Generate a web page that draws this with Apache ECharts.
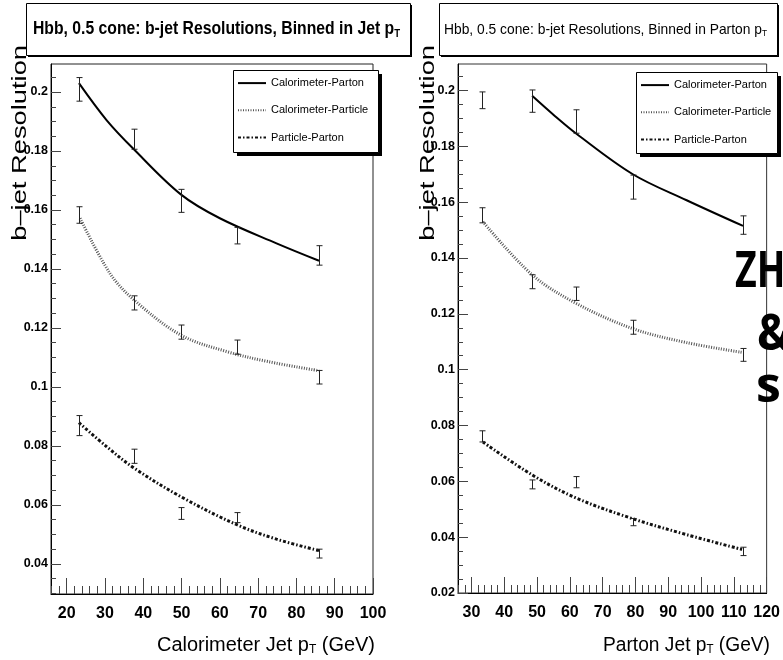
<!DOCTYPE html>
<html>
<head>
<meta charset="utf-8">
<script src="https://cdn.jsdelivr.net/npm/echarts@6.0.0/dist/echarts.min.js"></script>
<style>
  html, body { margin: 0; padding: 0; background: #fff; }
  #main { width: 783px; height: 660px; }
</style>
</head>
<body>
<div id="main"></div>
<script>
const SANS = "'Liberation Sans', Arial, sans-serif";

// ---- left panel: binned in calorimeter jet pT ----
const ptL = [23.2, 37.6, 49.8, 64.6, 85.9];
const calParL = [0.2009, 0.1840, 0.1631, 0.1513, 0.1446];
const calParErrL = [0.0040, 0.0034, 0.0039, 0.0028, 0.0033];
const calPcL = [0.1583, 0.1285, 0.1186, 0.1135, 0.1033];
const calPcErrL = [0.0028, 0.0024, 0.0024, 0.0024, 0.0023];
const pcParL = [0.0869, 0.0765, 0.0571, 0.0557, 0.0435];
const pcParErrL = [0.0034, 0.0024, 0.0020, 0.0017, 0.0015];
// fitted curves
const fitCalParL = [[23.2, 0.2030], [30.4, 0.1905], [37.6, 0.1805], [49.8, 0.1653], [60, 0.1572], [74.8, 0.1487], [85.9, 0.1428]];
const fitCalPcL = [[23.5, 0.1572], [31.3, 0.1385], [37.6, 0.1295], [49.8, 0.1176], [61.8, 0.1120], [72.6, 0.1086], [85.9, 0.1055]];
const fitPcParL = [[23.2, 0.0879], [30.4, 0.0798], [37.6, 0.0725], [49.8, 0.0628], [64.6, 0.0532], [74.8, 0.0484], [85.9, 0.0445]];

// ---- right panel: binned in parton pT ----
const ptR = [33.2, 48.5, 62.0, 79.2, 112.8];
const calParR = [0.1965, 0.1962, 0.1889, 0.1654, 0.1518];
const calParErrR = [0.0030, 0.0040, 0.0042, 0.0043, 0.0033];
const calPcR = [0.1553, 0.1315, 0.1272, 0.1152, 0.1053];
const calPcErrR = [0.0027, 0.0025, 0.0024, 0.0025, 0.0023];
const pcParR = [0.0761, 0.0589, 0.0597, 0.0454, 0.0349];
const pcParErrR = [0.0020, 0.0016, 0.0020, 0.0013, 0.0015];
const fitCalParR = [[48.5, 0.1981], [55.5, 0.1908], [62.0, 0.1845], [79.2, 0.1700], [95.6, 0.1607], [112.8, 0.1515]];
const fitCalPcR = [[33.5, 0.1530], [48.5, 0.1340], [62.0, 0.1237], [79.2, 0.1147], [95.6, 0.1097], [112.5, 0.1062]];
const fitPcParR = [[33.5, 0.0741], [48.5, 0.0623], [62.0, 0.0540], [79.2, 0.0466], [95.6, 0.0409], [112.5, 0.0356]];

// tick labels
const xTicksL = [20, 30, 40, 50, 60, 70, 80, 90, 100];
const yTicksL = [0.04, 0.06, 0.08, 0.1, 0.12, 0.14, 0.16, 0.18, 0.2];
const xTicksR = [30, 40, 50, 60, 70, 80, 90, 100, 110, 120];
const yTicksR = [0.02, 0.04, 0.06, 0.08, 0.1, 0.12, 0.14, 0.16, 0.18, 0.2];

const names = ['Calorimeter-Parton', 'Calorimeter-Particle', 'Particle-Parton'];
const lineStyles = [
  { color: '#000', width: 2, type: 'solid' },
  { color: '#555', width: 3, type: [1, 1.5] },
  { color: '#111', width: 3, type: [3, 2, 1.5, 2] }
];

// used to squeeze text into the narrow look of the original
const measureCtx = document.createElement('canvas').getContext('2d');
function textWidth(str, size, weight) {
  measureCtx.font = weight + ' ' + size + 'px ' + SANS;
  return measureCtx.measureText(str).width;
}

function minorTicks(lo, hi, step) {
  const out = [];
  for (let k = Math.ceil(lo / step - 1e-9); k * step <= hi + 1e-9; k++) {
    out.push(+(k * step).toFixed(4));
  }
  return out;
}

function xAxes(grid, min, max, ticks) {
  return [{
    type: 'value', gridIndex: grid, min: min, max: max, position: 'bottom',
    axisLine: { show: true, onZero: false, lineStyle: { color: '#000', width: 1 } },
    axisTick: { show: true, inside: true, length: 16, customValues: ticks, lineStyle: { color: '#444' } },
    axisLabel: { customValues: ticks, margin: 12, color: '#000', fontFamily: SANS, fontWeight: 'bold', fontSize: 16 },
    splitLine: { show: false }
  }, {
    type: 'value', gridIndex: grid, min: min, max: max, position: 'bottom',
    axisLine: { show: false }, axisLabel: { show: false }, splitLine: { show: false },
    axisTick: { show: true, inside: true, length: 8, customValues: minorTicks(min, max, 2), lineStyle: { color: '#444' } }
  }];
}

function yAxes(grid, min, max, ticks) {
  return [{
    type: 'value', gridIndex: grid, min: min, max: max, position: 'left',
    axisLine: { show: true, onZero: false, lineStyle: { color: '#000', width: 1 } },
    axisTick: { show: true, inside: true, length: 10, customValues: ticks, lineStyle: { color: '#444' } },
    axisLabel: { customValues: ticks, margin: 3, color: '#000', fontFamily: SANS, fontWeight: 'bold', fontSize: 12.5 },
    splitLine: { show: false }
  }, {
    type: 'value', gridIndex: grid, min: min, max: max, position: 'left',
    axisLine: { show: false }, axisLabel: { show: false }, splitLine: { show: false },
    axisTick: { show: true, inside: true, length: 5, customValues: minorTicks(min, max, 0.005), lineStyle: { color: '#444' } }
  }];
}

function errRender(params, api) {
  const x = api.value(0), y = api.value(1), e = api.value(2);
  const top = api.coord([x, y + e]), bot = api.coord([x, y - e]);
  const cx = Math.round(top[0]) + 0.5;
  const st = { stroke: '#222', lineWidth: 1 };
  return {
    type: 'group', children: [
      { type: 'line', shape: { x1: cx, y1: top[1], x2: cx, y2: bot[1] }, style: st },
      { type: 'line', shape: { x1: cx - 3, y1: top[1], x2: cx + 3, y2: top[1] }, style: st },
      { type: 'line', shape: { x1: cx - 3, y1: bot[1], x2: cx + 3, y2: bot[1] }, style: st }
    ]
  };
}

function zip(xs, ys, es) {
  return xs.map(function (x, i) { return [x, ys[i], es[i]]; });
}

function panelSeries(axisIdx, fits, pts) {
  const out = [];
  fits.forEach(function (f, i) {
    out.push({
      type: 'line', name: names[i], xAxisIndex: axisIdx, yAxisIndex: axisIdx,
      data: f, smooth: 0.35, symbol: 'none', showSymbol: false,
      lineStyle: lineStyles[i], itemStyle: { color: lineStyles[i].color },
      z: 3, silent: true
    });
  });
  pts.forEach(function (p) {
    out.push({
      type: 'custom', xAxisIndex: axisIdx, yAxisIndex: axisIdx,
      data: p, renderItem: errRender, encode: { x: 0, y: 1 }, z: 4, silent: true
    });
  });
  return out;
}

const series = [].concat(
  panelSeries(0, [fitCalParL, fitCalPcL, fitPcParL],
    [zip(ptL, calParL, calParErrL), zip(ptL, calPcL, calPcErrL), zip(ptL, pcParL, pcParErrL)]),
  panelSeries(2, [fitCalParR, fitCalPcR, fitPcParR],
    [zip(ptR, calParR, calParErrR), zip(ptR, calPcR, calPcErrR), zip(ptR, pcParR, pcParErrR)])
);

// legend: transparent legend component over a drawn box with a hard shadow
function legendAt(left, top) {
  return {
    data: names, orient: 'vertical', left: left, top: top,
    itemWidth: 28, itemHeight: 14, itemGap: 16, padding: [7.5, 8, 8, 4],
    backgroundColor: 'transparent', borderWidth: 0,
    itemStyle: { opacity: 0 },
    textStyle: { fontFamily: SANS, fontSize: 11, color: '#000' },
    selectedMode: false, z: 6
  };
}

function shadowBox(x, y, w, h, off) {
  return [
    { type: 'rect', shape: { x: x + off, y: y + off, width: w, height: h }, style: { fill: '#000' }, z: 5 },
    { type: 'rect', shape: { x: x + 0.5, y: y + 0.5, width: w, height: h }, style: { fill: '#fff', stroke: '#000', lineWidth: 1 }, z: 5 }
  ];
}

// text with a subscript, squeezed horizontally to a given width
function subText(x, y, parts, size, weight, align, target) {
  const sub = Math.round(size * 0.6);
  const w = textWidth(parts[0], size, weight) + textWidth(parts[1], sub, weight) + textWidth(parts[2], size, weight);
  return {
    type: 'text', x: x, y: y, z: 6, scaleX: target / w,
    style: {
      text: '{a|' + parts[0] + '}{s|' + parts[1] + '}' + (parts[2] ? '{a|' + parts[2] + '}' : ''),
      align: align, verticalAlign: 'middle',
      rich: {
        a: { fontFamily: SANS, fontSize: size, fontWeight: weight, fill: '#000' },
        s: { fontFamily: SANS, fontSize: sub, fontWeight: weight, fill: '#000', padding: [Math.round(size * 0.5), 0, 0, 0] }
      }
    }
  };
}

function yName(x) {
  return {
    type: 'text', x: x, y: 45, rotation: Math.PI / 2, scaleY: 0.77, z: 1,
    style: { text: 'b\u2013jet Resolution', fontFamily: SANS, fontSize: 27.3, fill: '#000', align: 'right', verticalAlign: 'middle' }
  };
}

function bigText(x, y, t, sx) {
  return {
    type: 'text', x: x, y: y, z: 0, scaleX: sx,
    style: { text: t, fontFamily: "'Open Sans', sans-serif", fontWeight: 'bold', fontSize: 50, fill: '#000', align: 'left', verticalAlign: 'top' }
  };
}

const chart = echarts.init(document.getElementById('main'), null, { renderer: 'canvas', width: 783, height: 660 });

chart.setOption({
  animation: false,
  backgroundColor: '#fff',
  grid: [
    { left: 51, top: 64, width: 322, height: 530, show: true, borderColor: '#222', borderWidth: 1, backgroundColor: 'transparent' },
    { left: 458, top: 64, width: 314, height: 529, show: true, borderColor: '#333', borderWidth: 1, backgroundColor: 'transparent' }
  ],
  xAxis: [].concat(xAxes(0, 15.9, 100, xTicksL), xAxes(1, 25.9, 120, xTicksR)),
  yAxis: [].concat(yAxes(0, 0.0298, 0.2095, yTicksL), yAxes(1, 0.02, 0.2095, yTicksR)),
  legend: [legendAt(233, 70), legendAt(636, 72)],
  graphic: [].concat(
    [bigText(735, 248, 'ZH', 0.75), bigText(757, 311, '&', 0.9), bigText(756, 363, 's', 1)],
    shadowBox(26, 3, 384, 52, 2),
    shadowBox(439, 3, 338, 52, 2),
    shadowBox(233, 70, 145, 82, 4),
    shadowBox(636, 72, 141, 81, 4),
    [
      subText(33, 29, ['Hbb, 0.5 cone: b-jet Resolutions, Binned in Jet p', 'T', ''], 18, 'bold', 'left', 367),
      subText(444, 30, ['Hbb, 0.5 cone: b-jet Resolutions, Binned in Parton p', 'T', ''], 15, 'normal', 'left', 323),
      yName(20),
      yName(428),
      subText(375, 645, ['Calorimeter Jet p', 'T', ' (GeV)'], 20, 'normal', 'right', 218),
      subText(770, 645, ['Parton Jet p', 'T', ' (GeV)'], 20, 'normal', 'right', 167)
    ]
  ),
  series: series
});
</script>
</body>
</html>
